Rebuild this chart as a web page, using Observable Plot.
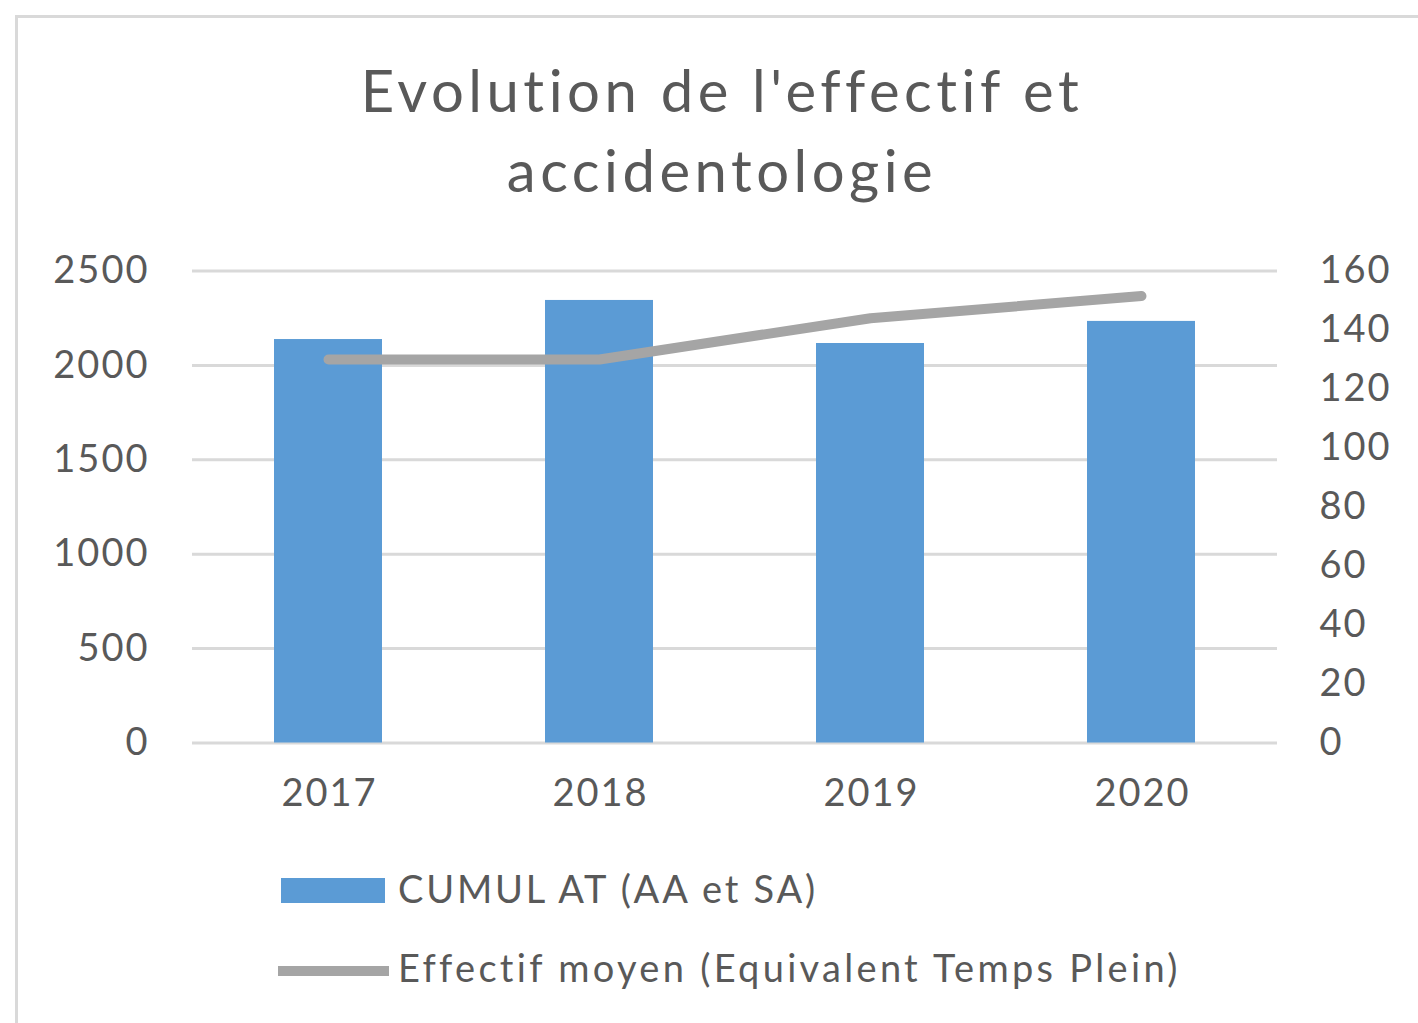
<!DOCTYPE html>
<html>
<head>
<meta charset="utf-8">
<script src="https://cdn.jsdelivr.net/npm/d3@7"></script>
<script src="https://cdn.jsdelivr.net/npm/@observablehq/plot@0.6"></script>
<style>
  html, body { margin: 0; padding: 0; background: #fff; }
  body { width: 1418px; height: 1023px; position: relative; overflow: hidden; font-family: Lato, "Open Sans", sans-serif; color: #595959; }
  #frame { position: absolute; left: 15px; top: 15px; width: 1420px; height: 1020px; border-top: 3px solid #d9d9d9; border-left: 3px solid #d9d9d9; }
  #title { position: absolute; left: 0; width: 1444px; top: 50px; text-align: center; font-size: 58px; line-height: 80px; letter-spacing: 4.5px; color: #595959; }
  #chart { position: absolute; left: 0; top: 230px; }
  .leg { position: absolute; left: 0; font-size: 38px; line-height: 46px; color: #595959; white-space: nowrap; }
  .sw { position: absolute; }
</style>
</head>
<body>
<div id="frame"></div>
<div id="title">Evolution de l'effectif et<br>accidentologie</div>
<div id="chart"></div>
<div class="sw" style="left:281px; top:878px; width:104px; height:25px; background:#5b9bd5;"></div>
<div class="leg" style="left:398px; top:865px; letter-spacing:2.8px;">CUMUL AT (AA et SA)</div>
<div class="sw" style="left:278px; top:966px; width:111px; height:10px; background:#a5a5a5;"></div>
<div class="leg" style="left:398px; top:944px; letter-spacing:3.3px;">Effectif moyen (Equivalent Temps Plein)</div>
<script>
const years = ["2017", "2018", "2019", "2020"];
const cumulAT = [2137, 2344, 2116, 2233];
const effectif = [130, 130, 144, 151.5];
const leftTicks = [0, 500, 1000, 1500, 2000, 2500];
const rightTicks = [0, 20, 40, 60, 80, 100, 120, 140, 160];

const leftMax = 2500, rightMax = 160;
const k = leftMax / rightMax;
const data = years.map((y, i) => ({year: y, at: cumulAT[i], eff: effectif[i]}));

const chart = Plot.plot({
  width: 1418,
  height: 600,
  marginLeft: 192,
  marginRight: 141,
  marginTop: 40.5,
  marginBottom: 87.5,
  style: {fontFamily: "Lato, 'Open Sans', sans-serif", fontSize: "38px", letterSpacing: "2px", color: "#595959", background: "transparent"},
  x: {domain: years, paddingInner: 0.6, paddingOuter: 0.3, label: null},
  y: {domain: [0, leftMax], label: null},
  marks: [
    Plot.gridY(leftTicks, {stroke: "#d9d9d9", strokeOpacity: 1, strokeWidth: 3}),
    Plot.barY(data, {x: "year", y: "at", fill: "#5b9bd5"}),
    Plot.line(data, {x: "year", y: d => d.eff * k, stroke: "#a5a5a5", strokeWidth: 10, strokeLinejoin: "round"}),
    Plot.axisY(leftTicks, {anchor: "left", tickSize: 0, tickPadding: 43, label: null, fill: "#595959", tickFormat: d => String(d)}),
    Plot.axisY(rightTicks.map(v => v * k), {anchor: "right", tickSize: 0, tickPadding: 42, label: null, fill: "#595959", tickFormat: d => String(Math.round(d / k))}),
    Plot.axisX({tickSize: 0, tickPadding: 36, label: null, fill: "#595959", dx: 1})
  ]
});
document.getElementById("chart").appendChild(chart);
</script>
</body>
</html>
